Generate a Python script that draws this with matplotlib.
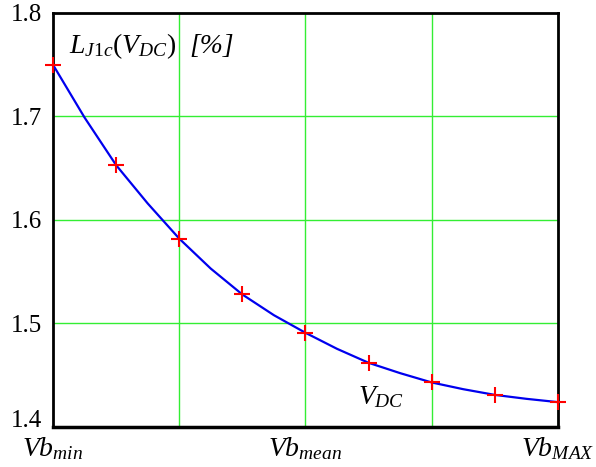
import numpy as np
import matplotlib
matplotlib.use("Agg")
import matplotlib.pyplot as plt

plt.rcParams['font.family'] = ['Liberation Serif', 'DejaVu Serif']
plt.rcParams['mathtext.fontset'] = 'custom'
plt.rcParams['mathtext.rm'] = 'Liberation Serif'
plt.rcParams['mathtext.it'] = 'Liberation Serif:italic'

# VDC as a fraction of the span Vb_min .. Vb_MAX
marker_x = [0, 0.125, 0.25, 0.375, 0.5, 0.625, 0.75, 0.875, 1.0]
marker_y = [1.750, 1.653, 1.582, 1.528, 1.491, 1.462, 1.443, 1.431, 1.424]

# curve read at the markers and half way between them
curve_x = [0, 0.0625, 0.125, 0.1875, 0.25, 0.3125, 0.375, 0.4375, 0.5,
           0.5625, 0.625, 0.6875, 0.75, 0.8125, 0.875, 0.9375, 1.0]
curve_y = [1.750, 1.699, 1.653, 1.616, 1.582, 1.553, 1.528, 1.508, 1.491,
           1.4755, 1.462, 1.452, 1.443, 1.4365, 1.431, 1.4272, 1.424]

x_ticks = [0, 0.5, 1.0]
x_labels = [r'$Vb_{min}$', r'$Vb_{mean}$', r'$Vb_{MAX}$']
y_ticks = [1.4, 1.5, 1.6, 1.7, 1.8]

fig = plt.figure(figsize=(5.96, 4.67), dpi=100)
ax = fig.add_axes([0.0889, 0.0857, 0.8473, 0.8865])

for gx in [0.25, 0.5, 0.75, 1.0]:
    ax.axvline(gx, color='#33ee33', lw=1.0, zorder=1)
for gy in [1.5, 1.6, 1.7]:
    ax.axhline(gy, color='#33ee33', lw=1.0, zorder=1)

ax.plot(curve_x, curve_y, color='#0000ee', lw=1.6, zorder=3)
ax.plot(marker_x, marker_y, ls='none', marker='+', color='red',
        markersize=11, mew=1.5, zorder=4, clip_on=False)

ax.set_xlim(0, 1)
ax.set_ylim(1.4, 1.8)
ax.set_xticks(x_ticks)
ax.set_xticklabels(x_labels, fontsize=20)
ax.set_yticks(y_ticks)
ax.set_yticklabels([f'{v:.1f}' for v in y_ticks], fontsize=18)
ax.tick_params(length=0, pad=8)
ax.tick_params(axis='x', pad=6)
ax.get_yticklabels()[0].set_va('baseline')

for s in ax.spines.values():
    s.set_color('black')
    s.set_linewidth(2)
ax.spines['bottom'].set_linewidth(2.5)

ax.text(0.031, 0.92, r'$L_{J1c}(V_{DC})$', transform=ax.transAxes,
        fontsize=20, va='center', ha='left')
ax.text(0.271, 0.92, '[%]', transform=ax.transAxes, fontstyle='italic',
        fontsize=20, va='center', ha='left')
ax.text(0.65, 0.04, r'$V_{DC}$', transform=ax.transAxes,
        fontsize=20, va='bottom', ha='center')

fig.savefig('out.png', dpi=100)
